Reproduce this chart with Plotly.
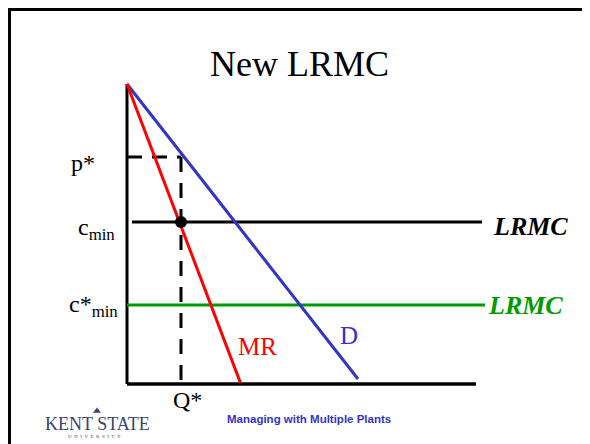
import plotly.graph_objects as go

# ---- data (economic units: quantity Q, price P) ----
demand_q = [0, 231]
demand_p = [300, 5]
mr_q = [0, 113.5]
mr_p = [300, 1]
axis_q_max = 349
axis_p_max = 300
c_min = 162
c_min_q = [5, 355]
c_star_min = 79
c_star_q = [0, 358]
p_star = 227
q_star = 54

title_text = "New LRMC"
footer_text = "Managing with Multiple Plants"

BLUE = "#3333CC"
RED = "#FF0000"
GREEN = "#009900"
SERIF = "Liberation Serif, Times New Roman, serif"

fig = go.Figure()

def line(x, y, color, width=3, dash=None):
    fig.add_trace(go.Scatter(x=x, y=y, mode="lines", hoverinfo="skip",
                             line=dict(color=color, width=width, dash=dash),
                             showlegend=False))

# axes
line([0, 0], [0, axis_p_max], "black", 3)
line([0, axis_q_max], [0, 0], "black", 3.5)
# dashed p*, Q*
line([0, q_star], [p_star, p_star], "black", 3, "15px,10px")
line([q_star, q_star], [p_star, 0], "black", 3, "15px,11px")
# LRMC lines
line(c_min_q, [c_min, c_min], "black", 3)
line(c_star_q, [c_star_min, c_star_min], GREEN, 3)
# D and MR
line(demand_q, demand_p, BLUE, 3)
line(mr_q, mr_p, RED, 3)
# dot
fig.add_trace(go.Scatter(x=[q_star], y=[c_min], mode="markers", hoverinfo="skip",
                         marker=dict(color="black", size=12), showlegend=False))
# crest of the logo
fig.add_trace(go.Scatter(x=[-30], y=[-27], mode="markers", hoverinfo="skip",
                         marker=dict(color="#3d4270", size=7, symbol="triangle-up"),
                         showlegend=False))

def text(x, y, s, size, color="black", family=SERIF, xanchor="center"):
    fig.add_annotation(x=x, y=y, text=s, showarrow=False, xanchor=xanchor,
                       yanchor="middle", font=dict(size=size, color=color, family=family))

text(172, 320, title_text, 36)
text(-30, 221, "p*", 24, xanchor="right")
text(-10, 155, "c<sub>min</sub>", 24, xanchor="right")
text(-7, 78, "c*<sub>min</sub>", 24, xanchor="right")
text(60, -16, "Q*", 24)
text(130, 38, "MR", 25, RED)
text(222, 49, "D", 25, BLUE)
text(364, 158, "<b><i>LRMC</i></b>", 26, xanchor="left")
text(359, 79, "<b><i>LRMC</i></b>", 26, GREEN, xanchor="left")
text(182, -35, "<b>" + footer_text + "</b>", 11.5, BLUE, family="Liberation Sans, Arial, sans-serif")
text(-30, -40, "KENT STATE", 18, "#3d4270")
text(-33, -52, "U&nbsp;&nbsp;N&nbsp;&nbsp;I&nbsp;&nbsp;V&nbsp;&nbsp;E&nbsp;&nbsp;R&nbsp;&nbsp;S&nbsp;&nbsp;I&nbsp;&nbsp;T&nbsp;&nbsp;Y", 5, "#3d4270")

# the page body has an 8px margin, so the figure covers page pixels 8..590 x 8..444
W, H = 582, 436
shapes = [
    dict(type="line", xref="paper", yref="paper", x0=0, x1=1, y0=1 - 1.5 / H, y1=1 - 1.5 / H,
         line=dict(color="black", width=3)),
    dict(type="line", xref="paper", yref="paper", x0=1.5 / W, x1=1.5 / W, y0=0, y1=1,
         line=dict(color="black", width=3)),
]

fig.update_layout(
    width=W, height=H, autosize=False,
    margin=dict(l=0, r=0, t=0, b=0),
    paper_bgcolor="white", plot_bgcolor="white",
    xaxis=dict(range=[-119, 463], visible=False, fixedrange=True),
    yaxis=dict(range=[-60, 376], visible=False, fixedrange=True),
    shapes=shapes,
)

fig.write_html("out.html")
